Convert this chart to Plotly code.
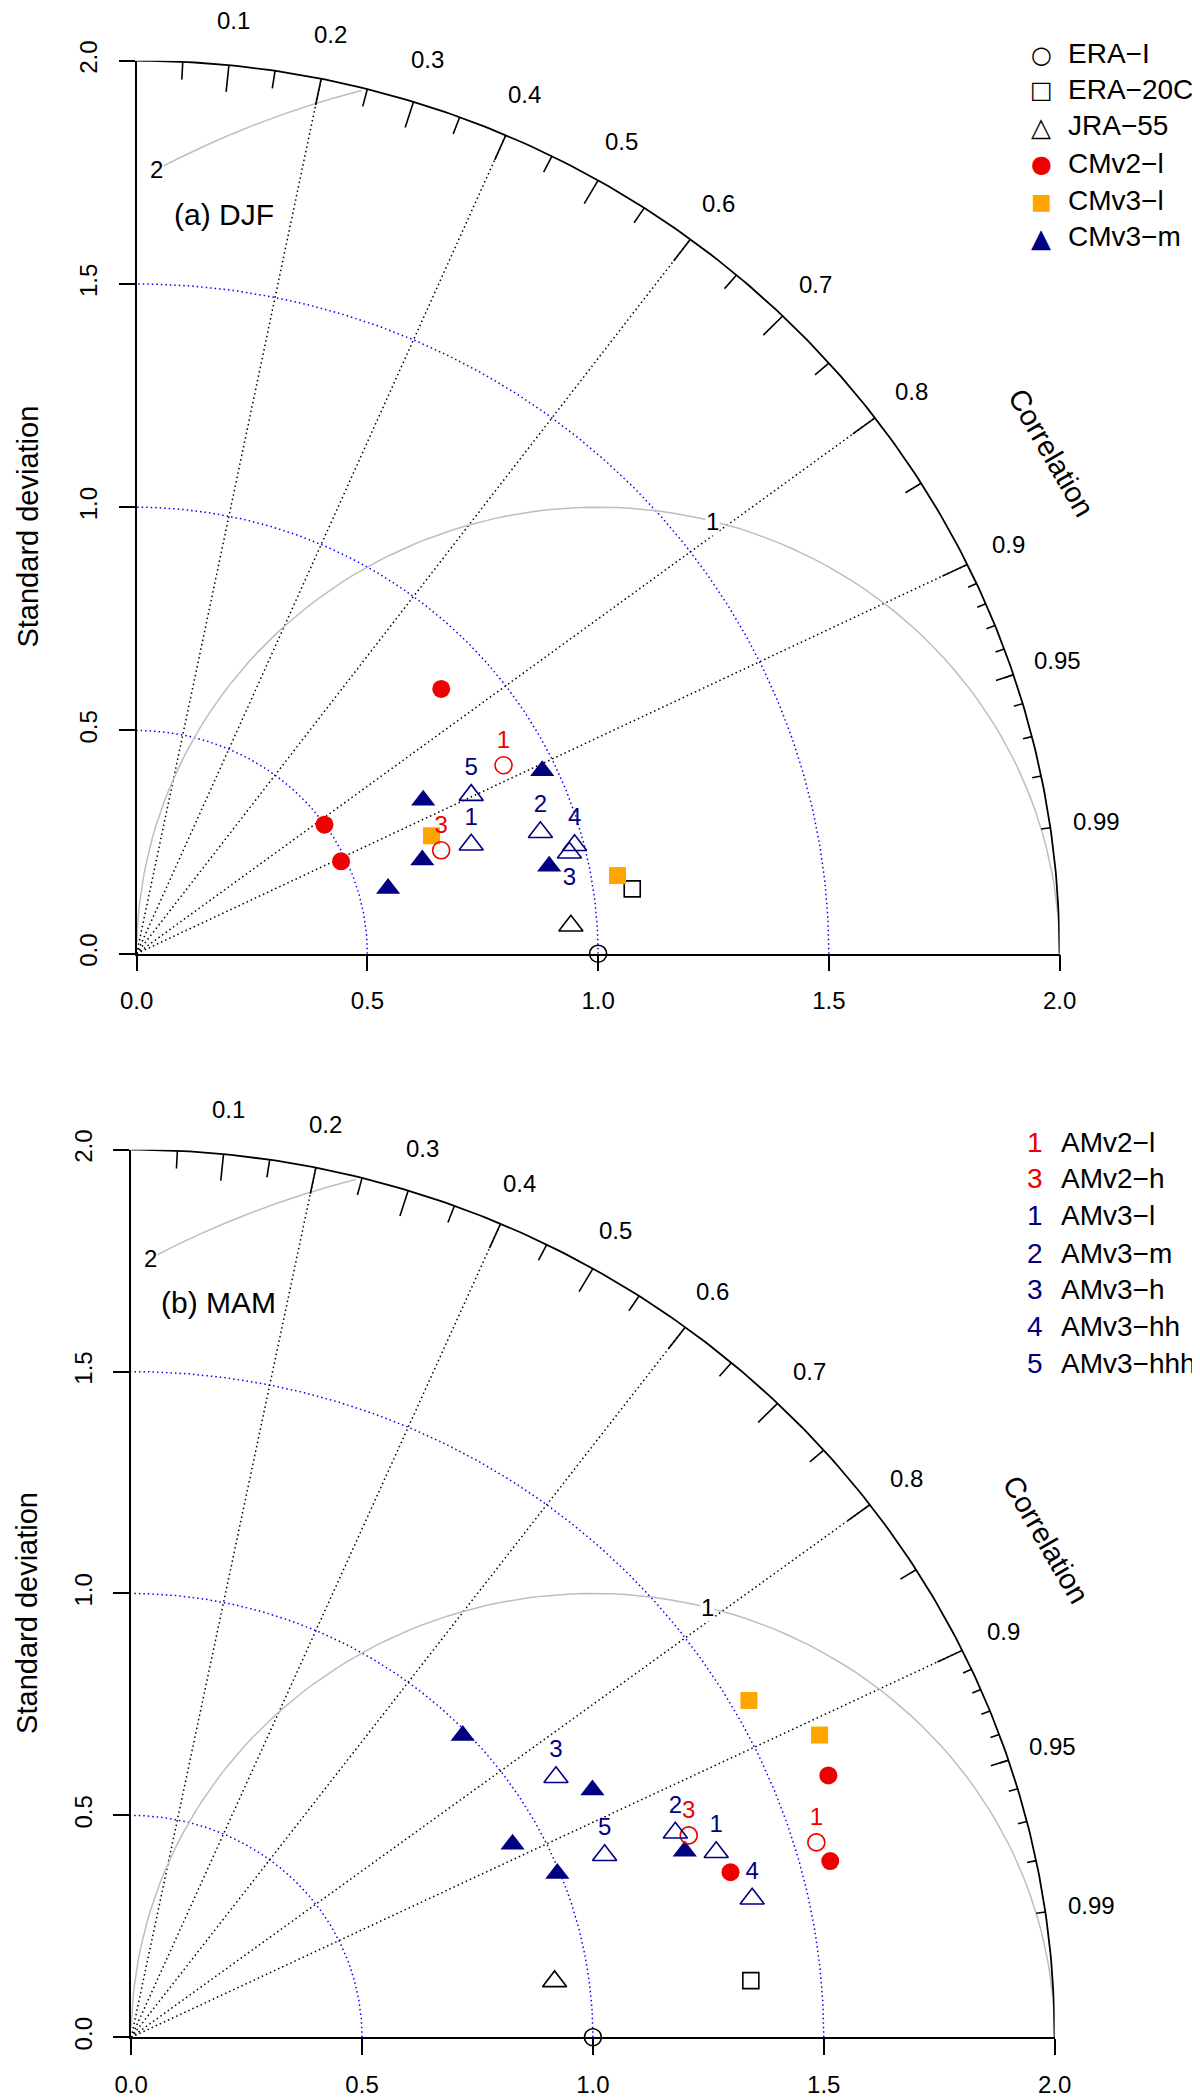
import numpy as np
import plotly.graph_objects as go

# Taylor diagrams, DJF and MAM: normalised standard deviation and correlation
# of every dataset / run.

ref_names = ["ERA−I", "ERA−20C", "JRA−55"]
djf_ref_sd = [1.000, 1.0837, 0.9431]
djf_ref_cor = [1.000, 0.9910, 0.9978]
mam_ref_sd = [1.000, 1.3481, 0.9256]
mam_ref_cor = [1.000, 0.9955, 0.9907]

cm_names = ["CMv2−l", "CMv3−l", "CMv3−m"]
djf_cmv2l_sd = [0.8873, 0.4992, 0.4890]
djf_cmv2l_cor = [0.7439, 0.8154, 0.9060]
djf_cmv3l_sd = [0.6914, 1.0566]
djf_cmv3l_cor = [0.9242, 0.9862]
djf_cmv3m_sd = [0.9699, 0.7099, 0.6537, 0.5642, 0.9152]
djf_cmv3m_cor = [0.9063, 0.8748, 0.9470, 0.9659, 0.9768]

mam_cmv2l_sd = [1.6212, 1.5652, 1.3503]
mam_cmv2l_cor = [0.9314, 0.9673, 0.9613]
mam_cmv3l_sd = [1.5383, 1.6392]
mam_cmv3l_cor = [0.8698, 0.9096]
mam_cmv3m_sd = [0.9889, 1.1438, 0.9335, 0.9940, 1.2701]
mam_cmv3m_cor = [0.7261, 0.8734, 0.8848, 0.9285, 0.9440]

# atmosphere-only runs, one point each, tagged with a number
am_names = ["AMv2−l", "AMv2−h", "AMv3−l", "AMv3−m", "AMv3−h", "AMv3−hh", "AMv3−hhh"]
am_nums = ["1", "3", "1", "2", "3", "4", "5"]
djf_am_sd = [0.9001, 0.6994, 0.7650, 0.9163, 0.9648, 0.9796, 0.8073]
djf_am_cor = [0.8833, 0.9436, 0.9478, 0.9549, 0.9722, 0.9688, 0.8981]
mam_am_sd = [1.5476, 1.2904, 1.3339, 1.2655, 1.0908, 1.3807, 1.1044]
mam_am_cor = [0.9589, 0.9358, 0.9499, 0.9313, 0.8434, 0.9741, 0.9285]

# diagram furniture
MAXSD = 2.0
corr_lines = [0.2, 0.4, 0.6, 0.8, 0.9]
sd_arcs = [0.5, 1.0, 1.5]
rms_levels = [1, 2]
corr_ticklabels = [0.1, 0.2, 0.3, 0.4, 0.5, 0.6, 0.7, 0.8, 0.9, 0.95, 0.99]

RED, ORANGE, NAVY = "#EE0000", "#FFA500", "#000080"
FONT = "Liberation Sans, Arial, sans-serif"
W, H = 1200, 2098


def to_xy(sd, cor):
    sd = np.asarray(sd, float)
    cor = np.asarray(cor, float)
    return sd * cor, sd * np.sqrt(np.clip(1 - cor ** 2, 0, None))


def tick_segments(cors, inner):
    xs, ys = [], []
    for c in cors:
        s = np.sqrt(1 - c ** 2)
        xs += [MAXSD * c, inner * MAXSD * c, None]
        ys += [MAXSD * s, inner * MAXSD * s, None]
    return xs, ys


fig = go.Figure()


def add_panel(xa, ya, ref_sd, ref_cor, cm_sd, cm_cor, am_sd, am_cor, am_pos):
    ax = dict(xaxis=xa, yaxis=ya, hoverinfo="skip", cliponaxis=False, showlegend=False)
    t = np.linspace(0, np.pi / 2, 200)

    for r in sd_arcs:
        fig.add_trace(go.Scatter(x=r * np.cos(t), y=r * np.sin(t), mode="lines",
                                 line=dict(color="blue", width=1.5, dash="1.5px,3px"), **ax))
    for c in corr_lines:
        fig.add_trace(go.Scatter(x=[0, MAXSD * c], y=[0, MAXSD * np.sqrt(1 - c ** 2)], mode="lines",
                                 line=dict(color="black", width=1.5, dash="1.5px,3px"), **ax))
    # centred RMS difference curves (plotrix sampling)
    tg = np.arange(0, np.pi, 0.03)
    for g in rms_levels:
        xc = np.cos(tg) * g + 1.0
        yc = np.sin(tg) * g
        keep = (xc >= 0) & (xc ** 2 + yc ** 2 <= MAXSD ** 2)
        fig.add_trace(go.Scatter(x=xc[keep], y=yc[keep], mode="lines",
                                 line=dict(color="#BEBEBE", width=1.5), **ax))
    fig.add_trace(go.Scatter(x=MAXSD * np.cos(t), y=MAXSD * np.sin(t), mode="lines",
                             line=dict(color="black", width=1.8), **ax))
    for cors, inner in [(np.arange(1, 10) / 10, 0.97), (np.arange(0.05, 0.96, 0.1), 0.98),
                        (np.arange(91, 100) / 100, 0.99)]:
        sx, sy = tick_segments(cors, inner)
        fig.add_trace(go.Scatter(x=sx, y=sy, mode="lines", line=dict(color="black", width=1.6), **ax))

    ref_x, ref_y = to_xy(ref_sd, ref_cor)
    for i, (sym, size) in enumerate(zip(["circle-open", "square-open", "triangle-up-open"], [17, 16, 21])):
        fig.add_trace(go.Scatter(x=[ref_x[i]], y=[ref_y[i]], mode="markers", name=ref_names[i],
                                 marker=dict(symbol=sym, size=size, color="black", line=dict(width=1.6)), **ax))
    for name, sd, cor, sym, col, size in zip(cm_names, cm_sd, cm_cor, ["circle", "square", "triangle-up"],
                                             [RED, ORANGE, NAVY], [18, 17, 21]):
        x, y = to_xy(sd, cor)
        fig.add_trace(go.Scatter(x=x, y=y, mode="markers", name=name,
                                 marker=dict(symbol=sym, size=size, color=col, line=dict(width=0)), **ax))
    x, y = to_xy(am_sd, am_cor)
    for i, name in enumerate(am_names):
        v2 = name.startswith("AMv2")
        col = RED if v2 else NAVY
        fig.add_trace(go.Scatter(x=[x[i]], y=[y[i]], mode="markers+text", name=name,
                                 text=[am_nums[i]], textposition=am_pos[i] + " center",
                                 textfont=dict(size=24, color=col, family=FONT),
                                 marker=dict(symbol="circle-open" if v2 else "triangle-up-open",
                                             size=17 if v2 else 21, color=col, line=dict(width=1.6)), **ax))


add_panel("x", "y", djf_ref_sd, djf_ref_cor,
          [djf_cmv2l_sd, djf_cmv3l_sd, djf_cmv3m_sd], [djf_cmv2l_cor, djf_cmv3l_cor, djf_cmv3m_cor],
          djf_am_sd, djf_am_cor, ["top", "top", "top", "top", "bottom", "top", "top"])
add_panel("x2", "y2", mam_ref_sd, mam_ref_cor,
          [mam_cmv2l_sd, mam_cmv3l_sd, mam_cmv3m_sd], [mam_cmv2l_cor, mam_cmv3l_cor, mam_cmv3m_cor],
          mam_am_sd, mam_am_cor, ["top"] * 7)


def txt(xr, yr, x, y, text, size, **kw):
    # positions given in data units, placed via the axis domain so nothing is hidden
    return dict(xref=xr + " domain", yref=yr + " domain", x=x / MAXSD, y=y / MAXSD, text=text,
                showarrow=False, xanchor="center", yanchor="middle",
                font=dict(family=FONT, size=size, color="black"), **kw)


annotations = []
for xr, yr, title, ytx in [("x", "y", "(a) DJF", -0.236), ("x2", "y2", "(b) MAM", -0.226)]:
    for c in corr_ticklabels:
        annotations.append(txt(xr, yr, 1.05 * MAXSD * c, 1.05 * MAXSD * np.sqrt(1 - c ** 2), f"{c:g}", 24))
    annotations.append(txt(xr, yr, 1.982, 1.121, "Correlation", 29, textangle=60))
    annotations.append(txt(xr, yr, 0.19, 1.655, title, 30))
    annotations.append(txt(xr, yr, ytx, 0.956, "Standard deviation", 29, textangle=-90))
    for g, k in zip(rms_levels, [44, 69]):
        annotations.append(txt(xr, yr, np.cos(k * 0.03) * g + 1.0, np.sin(k * 0.03) * g, str(g), 24,
                               bgcolor="white", borderpad=0))

# legend of the top panel: key glyph + name
key_glyphs = ["○", "□", "△", "●", "■", "▲"]
key_colors = ["black", "black", "black", RED, ORANGE, NAVY]
key_sizes = [24, 24, 26, 24, 22, 26]
key_rows = [46.7, 82.3, 119, 156, 193.3, 230]
for name, g, col, sz, yy in zip(ref_names + cm_names, key_glyphs, key_colors, key_sizes, key_rows):
    annotations.append(dict(xref="paper", yref="paper", x=1033 / W, y=1 - yy / H, text=g, showarrow=False,
                            xanchor="center", yanchor="middle",
                            font=dict(family="DejaVu Sans", size=sz, color=col)))
    annotations.append(dict(xref="paper", yref="paper", x=1058 / W, y=1 - (yy - 1) / H, text=name,
                            showarrow=False, xanchor="left", yanchor="middle",
                            font=dict(family=FONT, size=28, color="black")))

# legend of the atmosphere-only runs (bottom panel)
row_y = [1135, 1171.7, 1208.3, 1246, 1282.3, 1319.3, 1356.7]
for name, num, yy in zip(am_names, am_nums, row_y):
    col = RED if name.startswith("AMv2") else NAVY
    annotations.append(dict(xref="paper", yref="paper", x=1027 / W, y=1 - (yy - 1) / H, text=num,
                            showarrow=False, xanchor="center", yanchor="middle",
                            font=dict(family=FONT, size=28, color=col)))
    annotations.append(dict(xref="paper", yref="paper", x=1051 / W, y=1 - (yy - 1) / H, text=name,
                            showarrow=False, xanchor="left", yanchor="middle",
                            font=dict(family=FONT, size=28, color="black")))


def axis(domain, is_y=False):
    a = dict(domain=domain, range=[0, 2], showgrid=False, zeroline=False, showline=True,
             linecolor="black", linewidth=1.6, ticks="outside", ticklen=16, tickwidth=1.6,
             tickcolor="black", tickvals=[0, 0.5, 1, 1.5, 2],
             ticktext=["0.0", "0.5", "1.0", "1.5", "2.0"], automargin=False,
             tickfont=dict(family=FONT, size=24, color="black"), fixedrange=True)
    if is_y:
        a.update(tickangle=-90, ticklabelstandoff=12)
    else:
        a.update(ticklabelstandoff=9)
    return a


fig.update_layout(
    width=W, height=H, autosize=False,
    margin=dict(l=0, r=0, t=0, b=0, autoexpand=False),
    paper_bgcolor="white", plot_bgcolor="white",
    font=dict(family=FONT, color="black"),
    xaxis=dict(axis([0.10717, 0.87633]), anchor="y"),
    yaxis=dict(axis([0.54924, 0.97488], True), anchor="x"),
    xaxis2=dict(axis([0.10267, 0.87217]), anchor="y2"),
    yaxis2=dict(axis([0.03275, 0.45582], True), anchor="x2"),
    annotations=annotations,
    showlegend=False,
    hovermode=False,
)

fig.write_html("out.html")
